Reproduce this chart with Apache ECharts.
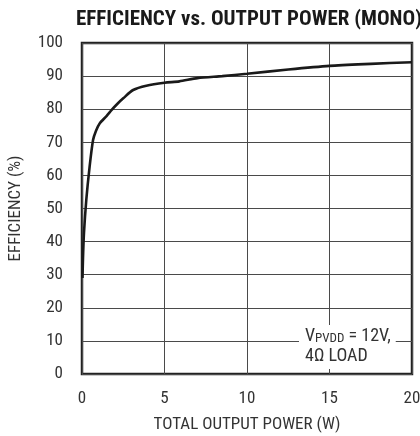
<!DOCTYPE html>
<html>
<head>
<meta charset="utf-8">
<script src="https://cdn.jsdelivr.net/npm/echarts@6/dist/echarts.min.js"></script>
<style>
  html, body { margin: 0; padding: 0; background: #fff; }
  #chart { width: 420px; height: 436px; }
</style>
</head>
<body>
<div id="chart"></div>
<script>
// Mono amplifier efficiency against total output power
const powerW = [0.03, 0.06, 0.12, 0.26, 0.46, 0.67, 0.85, 1.07, 1.5, 1.8, 2.18, 2.5, 3.1, 3.9, 5, 5.9, 7, 8.5, 10, 12.5, 15, 17.5, 20];
const efficiencyPct = [29, 35, 42.6, 52.6, 62.6, 70.7, 73.5, 75.7, 78, 79.8, 81.8, 83.3, 85.8, 87.1, 88, 88.4, 89.4, 90, 90.7, 92, 93.1, 93.7, 94.2];
const xTicks = [0, 5, 10, 15, 20];
const yTicks = [0, 10, 20, 30, 40, 50, 60, 70, 80, 90, 100];

const narrow = '"Roboto Condensed", "Liberation Sans Narrow", sans-serif';

const chart = echarts.init(document.getElementById('chart'), null, { renderer: 'canvas' });

chart.setOption({
  animation: false,
  backgroundColor: '#fff',
  title: {
    text: 'EFFICIENCY vs. OUTPUT POWER (MONO)',
    left: 244,
    textAlign: 'center',
    top: 4,
    textStyle: { fontFamily: narrow, fontWeight: 'bold', fontSize: 21, color: '#1a1a1a' }
  },
  grid: {
    left: 82, right: 8, top: 43, bottom: 62,
    containLabel: false,
    outerBoundsMode: 'none',
    show: true, borderColor: '#222', borderWidth: 2.5
  },
  xAxis: {
    type: 'value',
    min: xTicks[0], max: xTicks[xTicks.length - 1], interval: 5,
    name: 'TOTAL OUTPUT POWER (W)',
    nameLocation: 'middle', nameGap: 42,
    nameTextStyle: { fontFamily: narrow, fontSize: 17, color: '#333' },
    axisLine: { show: false },
    axisTick: { show: false },
    axisLabel: { margin: 16, fontFamily: narrow, fontSize: 17, color: '#333' },
    splitLine: { show: true, lineStyle: { color: '#4a4a4a', width: 1 } }
  },
  yAxis: {
    type: 'value',
    min: yTicks[0], max: yTicks[yTicks.length - 1], interval: 10,
    name: 'EFFICIENCY (%)',
    nameLocation: 'middle', nameRotate: 90, nameGap: 58,
    nameTextStyle: { fontFamily: narrow, fontSize: 17, color: '#333' },
    axisLine: { show: false },
    axisTick: { show: false },
    axisLabel: { margin: 19, fontFamily: narrow, fontSize: 17, color: '#333' },
    splitLine: { show: true, lineStyle: { color: '#4a4a4a', width: 1 } }
  },
  series: [{
    type: 'line',
    data: powerW.map((p, i) => [p, efficiencyPct[i]]),
    smooth: 0.25,
    showSymbol: false,
    lineStyle: { color: '#1a1a1a', width: 2.6 },
    z: 3
  }],
  graphic: [{
    type: 'text',
    left: 299, top: 325,
    z: 10,
    style: {
      text: '{v|V}{s|PVDD}{v| = 12V,}\n{v|4Ω LOAD}',
      backgroundColor: '#fff',
      padding: [1, 5, 3, 6],
      lineHeight: 20,
      rich: {
        v: { fontFamily: narrow, fontSize: 18, fill: '#333', lineHeight: 20 },
        s: { fontFamily: narrow, fontSize: 13, fill: '#333', padding: [6, 0, 0, 0], lineHeight: 20 }
      }
    }
  }]
});
</script>
</body>
</html>
